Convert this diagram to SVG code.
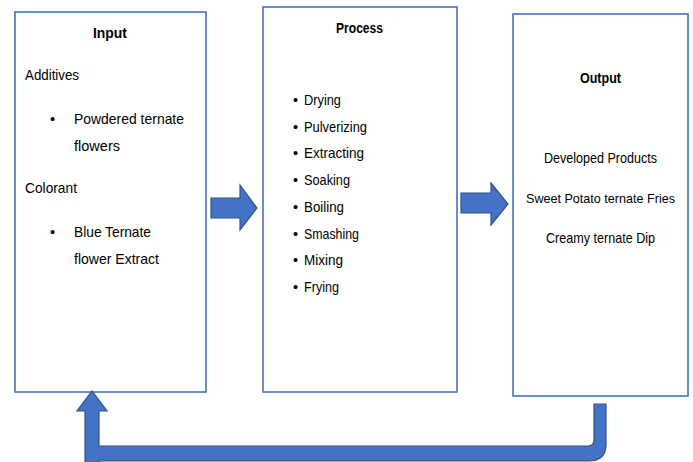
<svg xmlns="http://www.w3.org/2000/svg" width="693" height="462" viewBox="0 0 693 462">
<style>
.box{fill:#fff;stroke:#4472C4;stroke-width:1.6}
.arr{fill:#4472C4;stroke:#2F528F;stroke-width:1.2;stroke-linejoin:miter}
text{font-family:"Liberation Sans",Arial,sans-serif;font-size:14.5px;fill:#000}
.b{font-weight:bold}
.m{text-anchor:middle}
.s{font-size:13px}
</style>
<rect width="693" height="462" fill="#fff"/>
<g id="input">
<rect class="box" x="15" y="12" width="191" height="380"/>
<text class="b m" x="110" y="38" textLength="34" lengthAdjust="spacingAndGlyphs">Input</text>
<text x="25" y="80" textLength="54" lengthAdjust="spacingAndGlyphs">Additives</text>
<text x="50" y="124">•</text>
<text x="74" y="124" textLength="110" lengthAdjust="spacingAndGlyphs">Powdered ternate</text>
<text x="74" y="151" textLength="46" lengthAdjust="spacingAndGlyphs">flowers</text>
<text x="25" y="193" textLength="52" lengthAdjust="spacingAndGlyphs">Colorant</text>
<text x="50" y="237">•</text>
<text x="74" y="237" textLength="77" lengthAdjust="spacingAndGlyphs">Blue Ternate</text>
<text x="74" y="264" textLength="85" lengthAdjust="spacingAndGlyphs">flower Extract</text>
</g>
<g id="process">
<rect class="box" x="263" y="7" width="194" height="385"/>
<text class="b m" x="359.5" y="33" textLength="47" lengthAdjust="spacingAndGlyphs">Process</text>
<g>
<text x="293" y="105">•</text><text x="304" y="105" textLength="37" lengthAdjust="spacingAndGlyphs">Drying</text>
<text x="293" y="131.7">•</text><text x="304" y="131.7" textLength="63" lengthAdjust="spacingAndGlyphs">Pulverizing</text>
<text x="293" y="158.4">•</text><text x="304" y="158.4" textLength="60" lengthAdjust="spacingAndGlyphs">Extracting</text>
<text x="293" y="185.1">•</text><text x="304" y="185.1" textLength="46" lengthAdjust="spacingAndGlyphs">Soaking</text>
<text x="293" y="211.8">•</text><text x="304" y="211.8" textLength="40" lengthAdjust="spacingAndGlyphs">Boiling</text>
<text x="293" y="238.5">•</text><text x="304" y="238.5" textLength="55" lengthAdjust="spacingAndGlyphs">Smashing</text>
<text x="293" y="265.2">•</text><text x="304" y="265.2" textLength="39" lengthAdjust="spacingAndGlyphs">Mixing</text>
<text x="293" y="291.9">•</text><text x="304" y="291.9" textLength="35" lengthAdjust="spacingAndGlyphs">Frying</text>
</g>
</g>
<g id="output">
<rect class="box" x="513" y="14" width="175" height="382"/>
<text class="b m" x="600.5" y="83" textLength="41" lengthAdjust="spacingAndGlyphs">Output</text>
<text class="m" x="600.5" y="163" textLength="113" lengthAdjust="spacingAndGlyphs">Developed Products</text>
<text class="m s" x="600.5" y="203" textLength="149" lengthAdjust="spacingAndGlyphs">Sweet Potato ternate Fries</text>
<text class="m" x="600.5" y="243" textLength="109" lengthAdjust="spacingAndGlyphs">Creamy ternate Dip</text>
</g>
<g id="connectors">
<path class="arr" d="M211 198 L240 198 L240 185 L257 208 L240 230 L240 218 L211 218 Z"/>
<path class="arr" d="M461 193 L491 193 L491 183 L508 204 L491 225 L491 213 L461 213 Z"/>
<path class="arr" d="M85 463 L85 411 L77 411 L92 391 L107 411 L99 411 L99 446 L588 446 Q594 446 594 440 L594 404 L606 404 L606 444 Q606 461 589 461 L99 461 L99 463 Z"/>
</g>
</svg>
